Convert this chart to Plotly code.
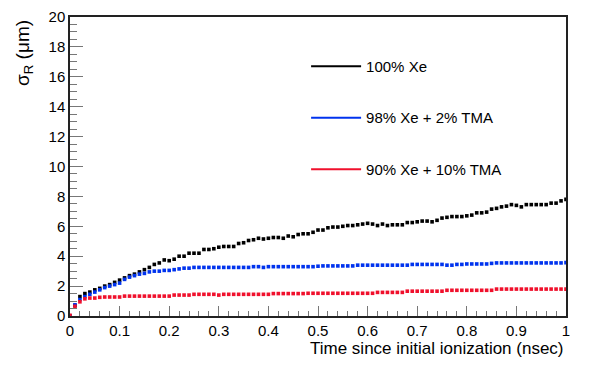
import plotly.graph_objects as go

time_ns = [i / 100 for i in range(101)]

xe_100 = [0.0, 0.7, 1.3, 1.5, 1.6, 1.75, 1.85, 2.0, 2.1, 2.25,
          2.4, 2.55, 2.7, 2.8, 2.95, 3.1, 3.25, 3.45, 3.55, 3.75,
          3.7, 3.8, 4.0, 4.0, 4.2, 4.2, 4.2, 4.45, 4.45, 4.5,
          4.6, 4.65, 4.65, 4.65, 4.85, 4.9, 5.05, 5.1, 5.2, 5.15,
          5.2, 5.25, 5.25, 5.2, 5.35, 5.3, 5.45, 5.5, 5.5, 5.6,
          5.75, 5.75, 5.9, 5.95, 5.95, 6.0, 6.05, 6.05, 6.1, 6.15,
          6.2, 6.15, 6.05, 6.15, 6.05, 6.1, 6.1, 6.1, 6.25, 6.25,
          6.3, 6.35, 6.35, 6.3, 6.4, 6.55, 6.6, 6.65, 6.65, 6.65,
          6.7, 6.75, 6.9, 6.9, 6.95, 7.15, 7.2, 7.3, 7.35, 7.45,
          7.4, 7.3, 7.45, 7.45, 7.45, 7.45, 7.45, 7.55, 7.55, 7.7,
          7.8]

xe_98_tma_2 = [0.0, 0.75, 1.1, 1.3, 1.45, 1.6, 1.75, 1.9, 2.0, 2.1,
               2.2, 2.45, 2.6, 2.7, 2.8, 2.85, 2.95, 3.0, 3.0, 3.05,
               3.05, 3.1, 3.15, 3.2, 3.2, 3.25, 3.25, 3.25, 3.25, 3.25,
               3.25, 3.25, 3.25, 3.25, 3.25, 3.25, 3.25, 3.3, 3.3, 3.25,
               3.3, 3.3, 3.3, 3.3, 3.3, 3.3, 3.3, 3.3, 3.3, 3.3,
               3.33, 3.35, 3.35, 3.35, 3.35, 3.35, 3.35, 3.35, 3.4, 3.4,
               3.4, 3.4, 3.4, 3.4, 3.4, 3.4, 3.4, 3.4, 3.4, 3.45,
               3.45, 3.45, 3.45, 3.45, 3.45, 3.45, 3.4, 3.4, 3.45, 3.45,
               3.48, 3.48, 3.48, 3.48, 3.48, 3.52, 3.55, 3.55, 3.55, 3.55,
               3.55, 3.55, 3.55, 3.55, 3.55, 3.55, 3.55, 3.55, 3.55, 3.55,
               3.57]

xe_90_tma_10 = [0.05, 0.65, 0.95, 1.15, 1.2, 1.2, 1.25, 1.27, 1.27, 1.27,
                1.27, 1.33, 1.33, 1.33, 1.33, 1.33, 1.33, 1.33, 1.33, 1.33,
                1.33, 1.4, 1.4, 1.4, 1.4, 1.45, 1.45, 1.45, 1.45, 1.45,
                1.4, 1.45, 1.45, 1.45, 1.45, 1.45, 1.45, 1.45, 1.45, 1.45,
                1.45, 1.5, 1.5, 1.5, 1.5, 1.5, 1.5, 1.5, 1.52, 1.52,
                1.52, 1.52, 1.52, 1.52, 1.52, 1.52, 1.52, 1.52, 1.52, 1.52,
                1.52, 1.52, 1.58, 1.58, 1.58, 1.58, 1.58, 1.58, 1.66, 1.66,
                1.66, 1.66, 1.66, 1.66, 1.66, 1.66, 1.72, 1.72, 1.72, 1.72,
                1.72, 1.72, 1.72, 1.72, 1.72, 1.72, 1.8, 1.8, 1.8, 1.8,
                1.8, 1.8, 1.8, 1.8, 1.8, 1.8, 1.8, 1.8, 1.8, 1.8,
                1.8]

series = [
    ("100% Xe", xe_100, "#000000"),
    ("98% Xe + 2% TMA", xe_98_tma_2, "#0033ee"),
    ("90% Xe + 10% TMA", xe_90_tma_10, "#f0102c"),
]

font = "Liberation Sans, Arial, Helvetica, sans-serif"

fig = go.Figure()
for i, (name, vals, col) in enumerate(series):
    fig.add_trace(go.Scatter(
        x=time_ns, y=vals, mode="markers", showlegend=False,
        marker=dict(symbol="square", size=3.6, color=col, line=dict(width=0)),
    ))
    # legend entry drawn as a line, like the ROOT legend
    fig.add_trace(go.Scatter(
        x=[None], y=[None], mode="lines", name=name, legendgroup=str(i),
        line=dict(color=col, width=2),
    ))

axis_common = dict(
    showgrid=False, zeroline=False, showline=True, linecolor="#222",
    linewidth=1.5, mirror=True, ticks="inside", tickcolor="#777",
    tickfont=dict(size=15, color="black"), automargin=False,
)

fig.update_xaxes(range=[0, 1], dtick=0.1, ticklen=10, tickangle=0,
                 minor=dict(dtick=0.02, ticklen=5, ticks="inside", tickcolor="#777"),
                 **axis_common)
fig.update_yaxes(range=[0, 20], dtick=2, ticklen=13,
                 minor=dict(dtick=0.5, ticklen=7, ticks="inside", tickcolor="#777"),
                 **axis_common)

fig.add_annotation(text="Time since initial ionization (nsec)", xref="paper", yref="paper",
                   x=1, y=0, yshift=-32, xanchor="right", yanchor="middle", showarrow=False,
                   font=dict(size=17, color="black"))
fig.add_annotation(text="σ<sub>R</sub> (μm)", xref="paper", yref="paper",
                   x=0, y=1, xshift=-46, yshift=-1, xanchor="center", yanchor="top",
                   textangle=-90, showarrow=False, font=dict(size=19, color="black"))

# page body has an 8px margin, so the figure is sized to sit inside the window
fig.update_layout(
    width=588, height=357,
    margin=dict(l=62, r=30, t=9, b=49),
    plot_bgcolor="white", paper_bgcolor="white",
    font=dict(family=font, color="black"),
    legend=dict(x=0.476, y=0.89, xanchor="left", yanchor="top", bgcolor="rgba(0,0,0,0)",
                font=dict(size=15), tracegroupgap=29, itemwidth=50),
)

fig.write_html("out.html")
